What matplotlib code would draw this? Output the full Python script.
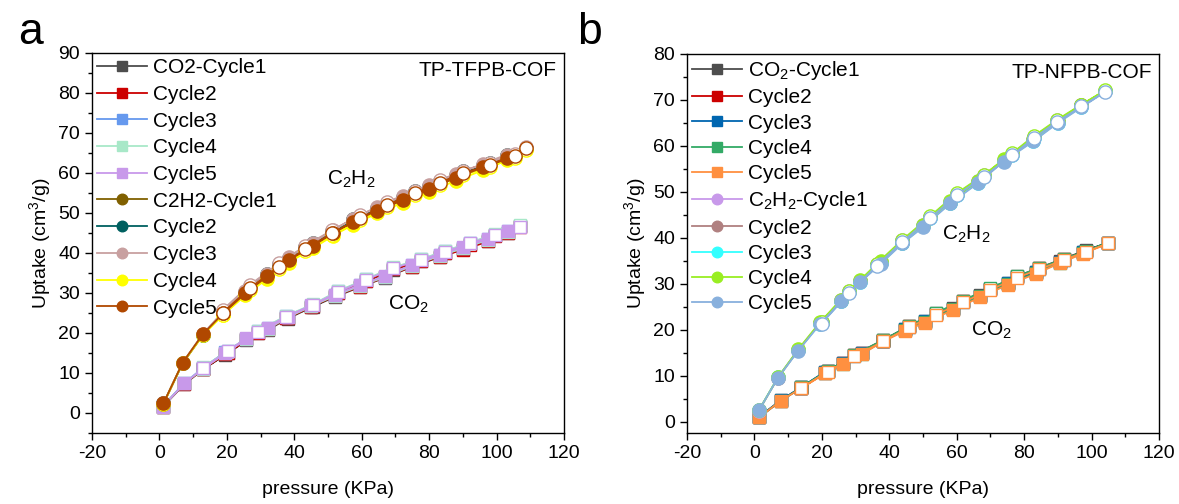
import numpy as np
import matplotlib
matplotlib.use('Agg')
import matplotlib.pyplot as plt
from matplotlib.lines import Line2D
from matplotlib.ticker import MultipleLocator

plt.rcParams['font.family'] = ['Liberation Sans', 'DejaVu Sans']
plt.rcParams['mathtext.default'] = 'regular'
plt.rcParams['axes.unicode_minus'] = False

### --------------- Panel a: TP-TFPB-COF --------------- ###
# CO2 adsorption / desorption pressures (KPa)
a_co2_p_ads = [1.0, 7.4, 13.0, 19.5, 25.8, 32.2, 38.1, 45.0, 52.0, 59.5, 66.9, 74.8, 83.2, 90.1, 97.5, 103.5]
a_co2_p_des = [107.0, 99.6, 92.1, 84.7, 77.7, 69.3, 61.4, 53.0, 45.6, 37.6, 29.2, 20.3, 12.9]
# CO2 uptake, cycles 1..5
a_co2_ads = [
    [1.5, 7.2, 10.9, 14.6, 18.2, 20.8, 23.6, 26.4, 29.0, 31.5, 33.8, 36.5, 39.0, 41.0, 43.0, 45.0],
    [1.6, 7.3, 11.0, 14.8, 18.4, 21.0, 23.8, 26.6, 29.2, 31.6, 33.9, 36.6, 39.1, 40.8, 42.9, 45.1],
    [1.7, 7.5, 11.3, 15.2, 18.6, 21.3, 24.0, 26.8, 29.4, 31.9, 34.1, 36.9, 39.4, 41.3, 43.4, 45.4],
    [1.6, 7.4, 11.1, 14.9, 18.5, 21.1, 23.9, 26.7, 29.3, 31.8, 34.0, 36.8, 39.3, 41.2, 43.3, 45.3],
    [1.6, 7.4, 11.2, 15.0, 18.7, 21.2, 24.1, 26.9, 29.5, 32.0, 34.2, 37.0, 39.5, 41.5, 43.5, 45.5],
]
a_co2_des = [
    [46.8, 44.6, 42.3, 40.1, 38.0, 35.8, 32.9, 29.9, 26.6, 23.7, 19.9, 15.0, 10.9],
    [46.5, 44.3, 42.1, 40.0, 38.0, 35.9, 33.0, 30.0, 26.7, 23.8, 20.0, 15.1, 11.0],
    [46.7, 44.6, 42.5, 40.4, 38.4, 36.3, 33.4, 30.4, 27.1, 24.2, 20.4, 15.5, 11.3],
    [46.9, 44.8, 42.6, 40.5, 38.5, 36.4, 33.5, 30.5, 27.2, 24.3, 20.5, 15.6, 11.4],
    [46.6, 44.5, 42.4, 40.3, 38.3, 36.2, 33.3, 30.3, 27.0, 24.1, 20.3, 15.4, 11.2],
]
# C2H2
a_c2h2_p_ads = [1.2, 6.9, 12.9, 19.0, 25.5, 32.0, 38.3, 45.6, 51.5, 57.5, 64.5, 72.3, 80.0, 88.0, 96.0, 103.0]
a_c2h2_p_des = [108.8, 105.5, 98.0, 90.1, 83.2, 75.8, 67.4, 59.4, 51.2, 43.3, 35.4, 26.8, 18.8]
a_c2h2_ads = [
    [2.3, 12.4, 19.5, 25.2, 30.1, 34.5, 38.5, 42.2, 45.3, 48.2, 51.0, 53.7, 56.4, 59.2, 61.8, 64.2],
    [2.4, 12.5, 19.6, 25.3, 30.3, 34.7, 38.7, 42.4, 45.5, 48.4, 51.2, 54.0, 56.7, 59.5, 62.1, 64.4],
    [2.4, 12.6, 19.8, 25.4, 30.4, 34.8, 38.9, 42.6, 45.7, 48.6, 51.4, 54.2, 56.9, 59.7, 62.3, 64.6],
    [2.3, 12.5, 19.4, 24.6, 29.4, 33.6, 37.6, 41.2, 44.3, 47.1, 49.9, 52.6, 55.3, 58.1, 60.7, 63.2],
    [2.4, 12.6, 19.7, 25.0, 29.9, 34.2, 38.2, 41.8, 45.0, 47.8, 50.6, 53.2, 56.0, 58.8, 61.4, 63.8],
]
a_c2h2_des = [
    [66.0, 64.5, 62.3, 60.3, 57.9, 55.2, 52.3, 49.0, 45.3, 41.4, 37.0, 31.6, 25.5],
    [66.3, 64.6, 62.4, 60.4, 58.0, 55.4, 52.5, 49.2, 45.5, 41.6, 37.2, 31.8, 25.6],
    [66.4, 64.8, 62.6, 60.6, 58.2, 55.6, 52.7, 49.4, 45.7, 41.8, 37.4, 32.0, 25.8],
    [65.8, 63.8, 61.6, 59.5, 57.1, 54.4, 51.5, 48.2, 44.4, 40.5, 36.1, 30.7, 24.6],
    [66.2, 64.2, 62.0, 60.0, 57.6, 54.9, 52.0, 48.7, 44.9, 41.0, 36.6, 31.2, 25.1],
]
a_co2_labels = ['CO2-Cycle1', 'Cycle2', 'Cycle3', 'Cycle4', 'Cycle5']
a_c2h2_labels = ['C2H2-Cycle1', 'Cycle2', 'Cycle3', 'Cycle4', 'Cycle5']
a_co2_colors = ['#4d4d4d', '#cc0000', '#6699ee', '#a8e8c8', '#c899ea']
a_c2h2_colors = ['#806000', '#006060', '#c8a0a0', '#ffff00', '#b04800']

### --------------- Panel b: TP-NFPB-COF --------------- ###
b_co2_p_ads = [1.4, 7.8, 13.8, 20.9, 26.2, 31.8, 38.2, 44.7, 50.6, 58.8, 66.9, 75.1, 83.5, 90.5, 97.5]
b_co2_p_des = [105.0, 98.3, 91.7, 84.5, 78.0, 69.9, 61.8, 53.8, 45.9, 38.2, 29.6, 21.8, 13.8]
b_co2_ads = [
    [1.1, 4.7, 7.5, 10.8, 12.9, 15.0, 17.8, 20.2, 22.0, 24.7, 27.5, 30.2, 32.6, 34.9, 37.0],
    [1.0, 4.6, 7.4, 10.7, 12.8, 14.9, 17.7, 20.0, 21.8, 24.5, 27.3, 30.0, 32.4, 34.7, 36.8],
    [1.1, 4.7, 7.5, 10.9, 12.8, 14.9, 17.7, 20.1, 21.9, 24.6, 27.4, 30.1, 32.5, 34.8, 36.9],
    [1.0, 4.6, 7.4, 10.7, 12.7, 14.8, 17.6, 20.0, 21.8, 24.5, 27.3, 30.0, 32.4, 34.6, 36.7],
    [1.0, 4.6, 7.3, 10.6, 12.6, 14.7, 17.5, 19.8, 21.6, 24.3, 27.1, 29.8, 32.2, 34.5, 36.6],
]
b_co2_des = [
    [39.0, 37.3, 35.5, 33.5, 31.7, 29.0, 26.3, 23.6, 20.9, 17.8, 14.6, 11.1, 7.5],
    [38.9, 37.2, 35.4, 33.4, 31.6, 28.9, 26.2, 23.5, 20.8, 17.7, 14.5, 11.0, 7.4],
    [38.9, 37.1, 35.3, 33.3, 31.5, 28.8, 26.1, 23.4, 20.7, 17.6, 14.4, 11.0, 7.4],
    [39.0, 37.2, 35.4, 33.5, 31.7, 29.1, 26.4, 23.7, 20.9, 17.8, 14.6, 11.1, 7.5],
    [38.8, 37.0, 35.2, 33.2, 31.4, 28.7, 26.0, 23.3, 20.6, 17.5, 14.3, 10.9, 7.3],
]
b_c2h2_p_ads = [1.3, 7.0, 13.0, 19.5, 25.7, 31.4, 37.5, 43.9, 50.1, 58.1, 66.3, 73.9, 82.7, 90.0, 97.0]
b_c2h2_p_des = [104.1, 97.0, 89.8, 82.8, 76.4, 68.0, 60.0, 52.1, 43.9, 36.3, 28.2, 19.9]
b_c2h2_ads = [
    [2.4, 9.7, 15.7, 21.6, 26.5, 30.7, 34.8, 39.2, 42.8, 47.9, 52.3, 57.0, 61.4, 65.4, 68.8],
    [2.5, 9.6, 15.6, 21.5, 26.4, 30.6, 34.6, 39.0, 42.6, 47.7, 52.1, 56.8, 61.2, 65.2, 68.6],
    [2.5, 9.7, 15.6, 21.4, 26.3, 30.5, 34.5, 38.9, 42.5, 47.6, 52.0, 56.7, 61.1, 65.1, 68.5],
    [2.5, 9.7, 15.8, 21.7, 26.6, 30.8, 34.9, 39.3, 42.9, 48.0, 52.4, 57.1, 61.5, 65.5, 68.9],
    [2.5, 9.6, 15.5, 21.3, 26.2, 30.4, 34.4, 38.8, 42.4, 47.5, 51.9, 56.6, 61.0, 65.0, 68.4],
]
b_c2h2_des = [
    [72.0, 68.9, 65.6, 62.0, 58.3, 53.6, 49.6, 44.6, 39.5, 34.3, 28.4, 21.7],
    [71.9, 68.8, 65.5, 61.9, 58.2, 53.5, 49.5, 44.5, 39.4, 34.2, 28.3, 21.6],
    [71.9, 68.7, 65.4, 61.8, 58.1, 53.4, 49.4, 44.4, 39.3, 34.1, 28.2, 21.5],
    [72.1, 69.0, 65.7, 62.1, 58.4, 53.7, 49.7, 44.7, 39.6, 34.4, 28.5, 21.8],
    [71.8, 68.6, 65.3, 61.7, 58.0, 53.3, 49.3, 44.3, 39.2, 34.0, 28.1, 21.4],
]
b_co2_labels = ['CO$_2$-Cycle1', 'Cycle2', 'Cycle3', 'Cycle4', 'Cycle5']
b_c2h2_labels = ['C$_2$H$_2$-Cycle1', 'Cycle2', 'Cycle3', 'Cycle4', 'Cycle5']
b_co2_colors = ['#4d4d4d', '#cc0000', '#0066b0', '#33aa66', '#ff9040']
b_c2h2_colors = ['#c899ea', '#b08080', '#33ffff', '#99ee22', '#88b0dd']


def draw_cycles(ax, p_ads, p_des, ads, des, colors, labels, marker, ms, handles):
    for y_a, y_d, c, lab in zip(ads, des, colors, labels):
        x_all = list(p_ads) + list(p_des)
        y_all = list(y_a) + list(y_d)
        ax.plot(x_all, y_all, color=c, lw=1.3, zorder=2)
        ax.plot(p_ads, y_a, ls='none', marker=marker, ms=ms, mfc=c, mec=c, mew=1.0, zorder=2)
        ax.plot(p_des, y_d, ls='none', marker=marker, ms=ms, mfc='white', mec=c, mew=1.0, zorder=2)
        handles.append(Line2D([], [], color=c, lw=1.3, marker=marker, ms=ms * 0.8,
                              mfc=c, mec=c, label=lab))


def style_axes(ax, ylim, ymaj):
    ax.set_xlim(-20, 120)
    ax.set_ylim(*ylim)
    ax.xaxis.set_major_locator(MultipleLocator(20))
    ax.xaxis.set_minor_locator(MultipleLocator(10))
    ax.yaxis.set_major_locator(MultipleLocator(ymaj))
    ax.yaxis.set_minor_locator(MultipleLocator(ymaj / 2))
    ax.tick_params(which='major', direction='out', length=5, width=1, labelsize=14)
    ax.tick_params(which='minor', direction='out', length=3, width=1)
    for s in ax.spines.values():
        s.set_linewidth(1.0)
    ax.set_xlabel('pressure (KPa)', fontsize=14, labelpad=14)
    ax.set_ylabel('Uptake (cm$^3$/g)', fontsize=14, labelpad=4)


fig = plt.figure(figsize=(11.79, 5.04), dpi=100)
ax_a = fig.add_axes([0.078, 0.1409, 0.4004, 0.754])
ax_b = fig.add_axes([0.5827, 0.1409, 0.4003, 0.752])

leg_kw = dict(loc='upper left', bbox_to_anchor=(0, 1), borderaxespad=0, borderpad=0.25,
              handlelength=2.4, handletextpad=0.3, frameon=False, fontsize=15)

# panel a
h_a = []
draw_cycles(ax_a, a_co2_p_ads, a_co2_p_des, a_co2_ads, a_co2_des, a_co2_colors, a_co2_labels, 's', 8.5, h_a)
draw_cycles(ax_a, a_c2h2_p_ads, a_c2h2_p_des, a_c2h2_ads, a_c2h2_des, a_c2h2_colors, a_c2h2_labels, 'o', 9.5, h_a)
style_axes(ax_a, (-5, 90), 10)
ax_a.legend(handles=h_a, labelspacing=0.37, **leg_kw)
ax_a.text(0.985, 0.955, 'TP-TFPB-COF', transform=ax_a.transAxes, ha='right', va='center', fontsize=15)
ax_a.text(57, 58.5, 'C$_2$H$_2$', ha='center', va='center', fontsize=15)
ax_a.text(74, 27.2, 'CO$_2$', ha='center', va='center', fontsize=15)

# panel b
h_b = []
draw_cycles(ax_b, b_co2_p_ads, b_co2_p_des, b_co2_ads, b_co2_des, b_co2_colors, b_co2_labels, 's', 8.5, h_b)
draw_cycles(ax_b, b_c2h2_p_ads, b_c2h2_p_des, b_c2h2_ads, b_c2h2_des, b_c2h2_colors, b_c2h2_labels, 'o', 9.5, h_b)
style_axes(ax_b, (-2.4, 80), 10)
ax_b.legend(handles=h_b, labelspacing=0.3, **leg_kw)
ax_b.text(0.985, 0.95, 'TP-NFPB-COF', transform=ax_b.transAxes, ha='right', va='center', fontsize=15)
ax_b.text(62.9, 40.7, 'C$_2$H$_2$', ha='center', va='center', fontsize=15)
ax_b.text(70.3, 20, 'CO$_2$', ha='center', va='center', fontsize=15)

fig.text(0.026, 0.935, 'a', fontsize=32, ha='center', va='center')
fig.text(0.5, 0.935, 'b', fontsize=32, ha='center', va='center')

fig.savefig('out.png', dpi=100)
